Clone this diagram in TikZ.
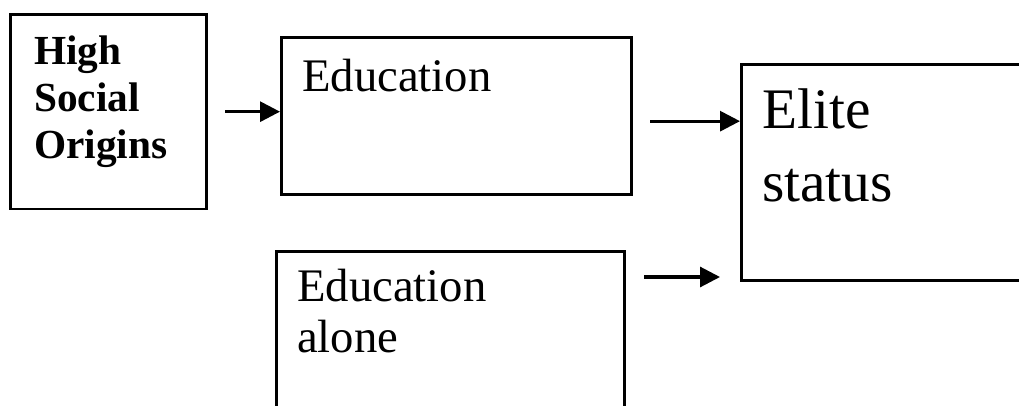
\documentclass[tikz,border=0pt]{standalone}
\usepackage{fontspec}
\setmainfont{Liberation Serif}
\usetikzlibrary{arrows.meta, positioning}

\tikzset{
  box/.style={draw, line width=2pt, inner sep=0pt, anchor=north west},
  lbl/.style={inner sep=0pt, anchor=north west, align=left},
  arr/.style={-{Triangle[length=15pt, width=15pt]}, line width=2.3pt},
}

\begin{document}
\begin{tikzpicture}[x=0.75pt, y=-0.75pt]
  \clip (0,0) rectangle (1019,406);
  % boxes
  \node[box, minimum width=147pt, minimum height=146pt] (origins) at (9,13) {};
  \node[box, minimum width=262.5pt, minimum height=117.75pt] (edu) at (280,36) {};
  \node[box, minimum width=225pt, minimum height=162pt] (elite) at (740,63) {};
  \node[box, minimum width=261pt, minimum height=127.5pt] (alone) at (275,250) {};
  % texts
  \node[lbl, font=\bfseries\fontsize{31}{35}\selectfont] (origins-txt) at ([shift={(25,23)}]origins.north west) {High\\Social\\Origins};
  \node[lbl, font=\fontsize{35}{38}\selectfont] (edu-txt) at ([shift={(22,23)}]edu.north west) {Education};
  \node[lbl, font=\fontsize{35}{38}\selectfont] (alone-txt) at ([shift={(22,19)}]alone.north west) {Education\\alone};
  \node[lbl, font=\fontsize{43}{55}\selectfont] (elite-txt) at ([shift={(22,25)}]elite.north west) {Elite\\status};
  % arrows
  \path ([yshift=-4pt]edu.east) coordinate (e2);
  \coordinate (tip) at (720,277);
  \draw[arr, shorten <=13pt] (origins.east) -- (origins.east -| edu.west);
  \draw[arr, shorten <=13pt] (e2) -- (e2 -| elite.west);
  \draw[arr, shorten <=14pt] (alone.east |- tip) -- (tip);
\end{tikzpicture}
\end{document}
